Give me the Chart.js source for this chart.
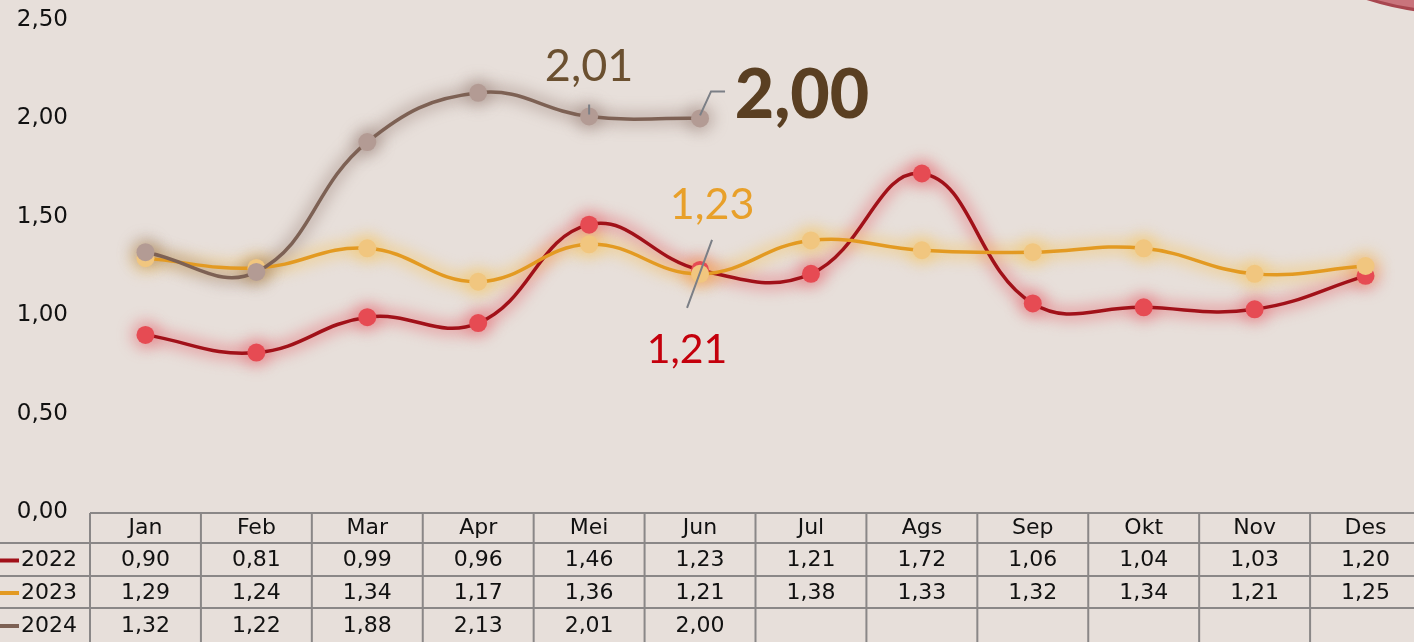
<!DOCTYPE html>
<html>
<head>
<meta charset="utf-8">
<script src="https://cdn.jsdelivr.net/npm/chart.js@4.4.1/dist/chart.umd.min.js"></script>
<style>
  html, body { margin: 0; padding: 0; background: #e7dfda; overflow: hidden; }
  #wrap { position: relative; width: 1421px; height: 642px; }
  canvas { display: block; }
</style>
</head>
<body>
<div id="wrap"><canvas id="c" width="1421" height="642"></canvas></div>
<script>
// Monthly values per year
const months = ['Jan','Feb','Mar','Apr','Mei','Jun','Jul','Ags','Sep','Okt','Nov','Des'];
const years = ['2022','2023','2024'];
const v2022 = [0.90,0.81,0.99,0.96,1.46,1.23,1.21,1.72,1.06,1.04,1.03,1.20];
const v2023 = [1.29,1.24,1.34,1.17,1.36,1.21,1.38,1.33,1.32,1.34,1.21,1.25];
const v2024 = [1.32,1.22,1.88,2.13,2.01,2.00,null,null,null,null,null,null];
const yTicks = [0,0.5,1,1.5,2,2.5];

// Callout labels on the chart
const callouts = [
  {text:'2,01', set:2, idx:4, dx:0, dy:-50, color:'#6b5030', font:'400 45px Lato'},
  {text:'2,00', set:2, idx:5, dx:102, dy:-22, color:'#5a3f22', font:'900 68px Lato'},
  {text:'1,23', set:1, idx:5, dx:12, dy:-69, color:'#e8a02a', font:'400 43px Lato'},
  {text:'1,21', set:0, idx:5, dx:-13, dy:80, color:'#c4000c', font:'400 41px Lato'}
];

const lineColors  = ['#a11119','#e39a22','#7d6154'];
const pointColors = ['#e64b53','#f1c67f','#b39b94'];
const haloColors  = ['rgba(228,90,100,0.38)','rgba(246,195,90,0.42)','rgba(130,100,90,0.3)'];
const fmt = v => v == null ? '' : v.toFixed(2).replace('.', ',');
const series = [v2022, v2023, v2024];

// blur the halo datasets into a soft glow
const glow = {
  id: 'glow',
  beforeDatasetDraw(chart, args) {
    const ctx = chart.ctx;
    ctx.save();
    if (chart.data.datasets[args.index].halo) ctx.filter = 'blur(7px)';
  },
  afterDatasetDraw(chart) { chart.ctx.restore(); }
};

const decor = {
  id: 'decor',
  beforeDraw(chart) {
    const ctx = chart.ctx;
    ctx.save();
    ctx.fillStyle = '#e7dfda';
    ctx.fillRect(0, 0, chart.width, chart.height);
    // corner ornament
    ctx.beginPath();
    ctx.arc(1459, -287, 300, 0, Math.PI * 2);
    ctx.fillStyle = '#c9747c';
    ctx.fill();
    ctx.lineWidth = 3;
    ctx.strokeStyle = '#a8464f';
    ctx.stroke();
    ctx.restore();
  }
};

const table = {
  id: 'table',
  afterDraw(chart) {
    const ctx = chart.ctx, x = chart.scales.x;
    const left = 90, right = chart.width;
    const rows = [513, 543, 576, 608, 642];
    ctx.save();
    ctx.strokeStyle = '#8a8787';
    ctx.lineWidth = 2;
    // horizontal rules
    ctx.beginPath();
    ctx.moveTo(left, rows[0]); ctx.lineTo(right, rows[0]);
    for (let r = 1; r < 4; r++) { ctx.moveTo(0, rows[r]); ctx.lineTo(right, rows[r]); }
    // column rules
    const half = (x.getPixelForTick(1) - x.getPixelForTick(0)) / 2;
    for (let i = 0; i < months.length; i++) {
      const xl = x.getPixelForTick(i) - half;
      ctx.moveTo(xl, rows[0]); ctx.lineTo(xl, rows[4]);
    }
    ctx.stroke();
    ctx.fillStyle = '#111';
    ctx.font = '22px "DejaVu Sans"';
    ctx.textAlign = 'center';
    ctx.textBaseline = 'middle';
    months.forEach((m, i) => ctx.fillText(m, x.getPixelForTick(i), 528));
    series.forEach((s, r) => {
      const yc = (rows[r + 1] + rows[r + 2]) / 2 + 1;
      s.forEach((v, i) => ctx.fillText(fmt(v), x.getPixelForTick(i), yc));
      // row legend
      ctx.fillStyle = lineColors[r];
      ctx.fillRect(0, yc - 2, 19, 4);
      ctx.fillStyle = '#111';
      ctx.textAlign = 'left';
      ctx.fillText(years[r], 21, yc);
      ctx.textAlign = 'center';
    });
    ctx.restore();
  }
};

const notes = {
  id: 'notes',
  afterDatasetsDraw(chart) {
    const ctx = chart.ctx, x = chart.scales.x, y = chart.scales.y;
    const px = (i) => x.getPixelForValue(i);
    const py = (s, i) => y.getPixelForValue(series[s][i]);
    ctx.save();
    ctx.strokeStyle = '#7b7f86';
    ctx.lineWidth = 2;
    ctx.beginPath();
    // 2,01 tick
    ctx.moveTo(px(4), py(2, 4) - 2); ctx.lineTo(px(4), py(2, 4) - 12);
    // 2,00 leader
    ctx.moveTo(px(5), py(2, 5) - 3); ctx.lineTo(px(5) + 11, py(2, 5) - 27); ctx.lineTo(px(5) + 25, py(2, 5) - 27);
    // Jun slash
    ctx.moveTo(px(5) + 12, py(1, 5) - 34); ctx.lineTo(px(5) - 13, py(1, 5) + 34);
    ctx.stroke();
    ctx.textAlign = 'center';
    ctx.textBaseline = 'middle';
    callouts.forEach(c => {
      ctx.fillStyle = c.color;
      ctx.font = c.font;
      ctx.fillText(c.text, px(c.idx) + c.dx, y.getPixelForValue(series[c.set][c.idx]) + c.dy);
    });
    ctx.restore();
  }
};

const mk = (label, data, i) => ({
  label, data,
  borderColor: lineColors[i],
  borderWidth: 3.5,
  pointBackgroundColor: pointColors[i],
  pointBorderWidth: 0,
  pointRadius: 9,
  pointHoverRadius: 9,
  tension: 0.42,
  clip: false,
  order: 0
});
const mkHalo = (label, data, i) => ({
  label, data, halo: true,
  borderColor: haloColors[i],
  borderWidth: 16,
  pointBackgroundColor: haloColors[i],
  pointBorderWidth: 0,
  pointRadius: 15,
  pointHoverRadius: 15,
  tension: 0.42,
  clip: false,
  order: 1
});

new Chart(document.getElementById('c'), {
  type: 'line',
  data: {
    labels: months,
    // within the same order, the first dataset is drawn on top
    datasets: [
      mk(years[2], v2024, 2), mk(years[1], v2023, 1), mk(years[0], v2022, 0),
      mkHalo(years[2], v2024, 2), mkHalo(years[1], v2023, 1), mkHalo(years[0], v2022, 0)
    ]
  },
  options: {
    responsive: false,
    animation: false,
    events: [],
    layout: { autoPadding: false, padding: { top: 20, bottom: 130, left: 0, right: 0 } },
    plugins: { legend: { display: false }, tooltip: { enabled: false } },
    scales: {
      x: { display: false, offset: true },
      y: {
        min: 0, max: 2.5,
        afterFit(s) { s.width = 90; s.paddingTop = 10; s.paddingBottom = 10; },
        afterBuildTicks(s) { s.ticks = yTicks.map(v => ({ value: v })); },
        grid: { display: false, drawTicks: false },
        border: { display: false },
        ticks: {
          padding: 22,
          color: '#111',
          font: { family: '"DejaVu Sans"', size: 23 },
          callback: v => fmt(v)
        }
      }
    }
  },
  plugins: [decor, glow, notes, table]
});
</script>
</body>
</html>
